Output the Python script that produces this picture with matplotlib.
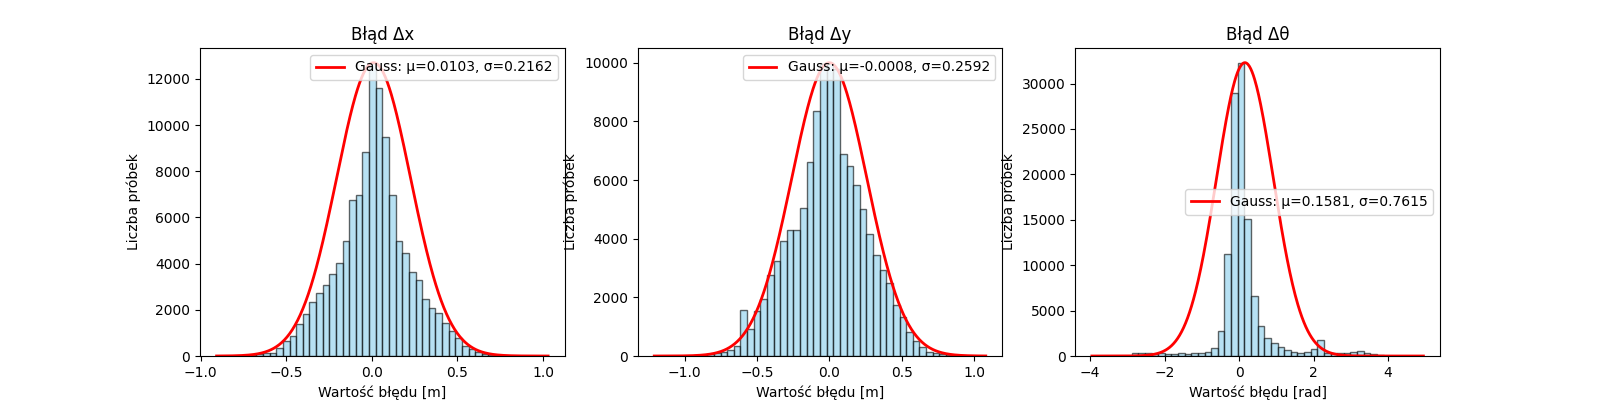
import numpy as np
import matplotlib
matplotlib.use("Agg")
import matplotlib.pyplot as plt

titles = ["Błąd Δx", "Błąd Δy", "Błąd Δθ"]
xlabels = ["Wartość błędu [m]", "Wartość błędu [m]", "Wartość błędu [rad]"]
ranges = [(-0.907, 1.03), (-1.21, 1.08), (-3.95, 4.95)]
mus = [0.0103, -0.0008, 0.1581]
sigmas = [0.2162, 0.2592, 0.7615]
legend_locs = ["upper right", "upper right", "center right"]

counts_x = [2, 3, 5, 10, 20, 40, 70,
            120, 150, 340, 670, 880, 1390, 1840, 2350, 2720, 3070,
            3550, 4020, 4960, 6740, 6960, 8850, 12700, 11620, 9470, 6960,
            5000, 4460, 3630, 3290, 2460, 2090, 1870, 1430, 1100, 800,
            440, 290, 160, 90,
            40, 20, 10, 5, 3, 2, 1, 1, 1]
counts_y = [1, 2, 3, 5, 8, 12, 20, 35, 55,
            90, 140, 210, 340, 1580, 920, 1550, 1930, 2760, 3230,
            3920, 4300, 4300, 5030, 6600, 8360, 9950, 10000, 9800, 6880,
            6490, 5820, 5020, 4160, 3430, 2930, 2500, 1745, 1340, 815,
            517, 300, 150, 90,
            60, 30, 15, 8, 4, 2, 1]
counts_t = [1, 0, 0, 0, 0, 0,
            290, 290, 290, 180, 290, 180, 180, 290, 220, 290,
            290, 400, 840, 2750, 11200, 29000, 32300, 15050, 6600, 3300,
            1950, 1400, 950, 660, 400, 290, 400, 770, 1760, 290,
            290, 290, 290, 400, 550, 290, 180,
            80, 40, 20, 10, 5, 2, 1]
all_counts = [counts_x, counts_y, counts_t]

fig, axes = plt.subplots(1, 3, figsize=(16, 4), dpi=100)

for ax, title, xl, rng, mu, sg, loc, counts in zip(axes, titles, xlabels, ranges,
                                                 mus, sigmas, legend_locs, all_counts):
    counts = np.array(counts, dtype=float)
    edges = np.linspace(rng[0], rng[1], len(counts) + 1)
    centers = (edges[:-1] + edges[1:]) / 2
    ax.hist(centers, bins=edges, weights=counts, color="skyblue",
            edgecolor="black", alpha=0.6)
    xs = np.linspace(rng[0], rng[1], 500)
    ys = counts.max() * np.exp(-(xs - mu) ** 2 / (2 * sg ** 2))
    ax.plot(xs, ys, color="red", lw=2, label=f"Gauss: μ={mu:.4f}, σ={sg:.4f}")
    ax.set_title(title)
    ax.set_xlabel(xl)
    ax.set_ylabel("Liczba próbek")
    ax.legend(loc=loc)

fig.savefig("out.png")
